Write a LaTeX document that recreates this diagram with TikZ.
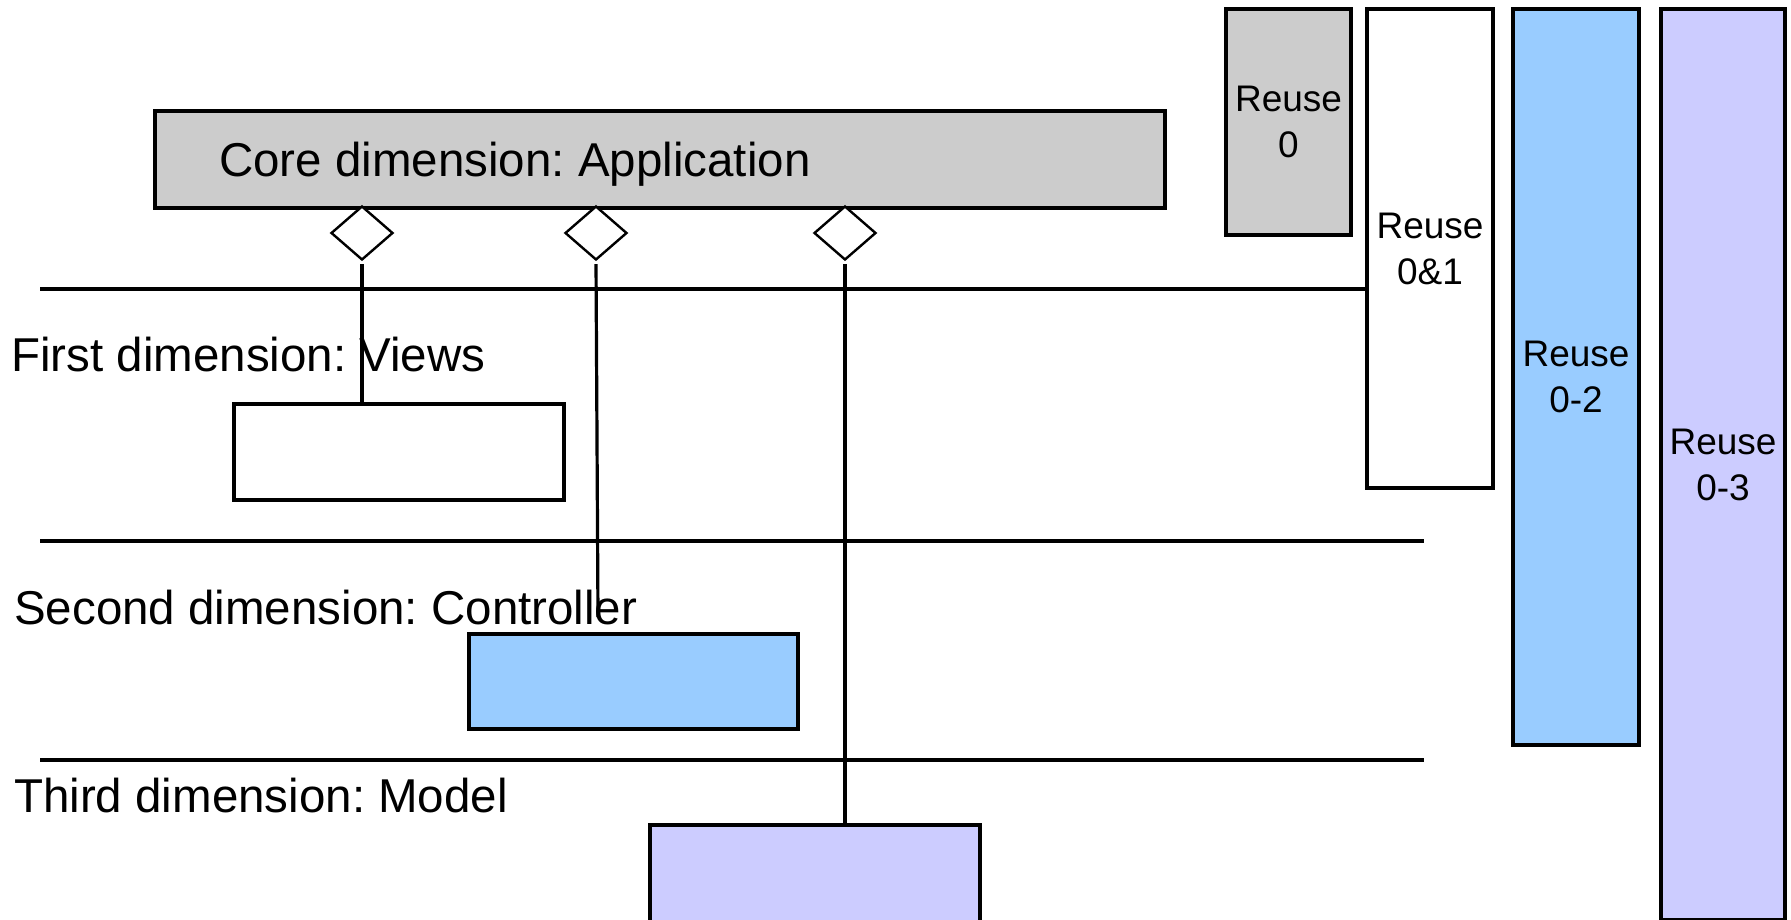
\documentclass[tikz,border=0pt]{standalone}
\usepackage{fontspec}
\setmainfont{Liberation Sans}
\usetikzlibrary{shapes.geometric}
\definecolor{coregray}{HTML}{CCCCCC}
\definecolor{ctrlblue}{HTML}{99CCFF}
\definecolor{modelpurple}{HTML}{CCCCFF}
\frenchspacing
\begin{document}
\begin{tikzpicture}[x=1pt,y=-1pt,
  box/.style={draw=black, line width=3.4pt, inner sep=0pt, rectangle},
  dia/.style={draw=black, diamond, fill=white, line width=2.4pt, minimum width=62pt, minimum height=54pt, inner sep=0pt},
  conn/.style={draw=black, line width=3.2pt, shorten <=3pt},
  sepline/.style={draw=black, line width=3.4pt},
  dimlabel/.style={anchor=base west, inner sep=0pt, font=\fontsize{47.5}{57}\selectfont},
  reuse/.style={box, align=center, font=\fontsize{37}{46}\selectfont}]
\useasboundingbox (0,0) rectangle (1791,920);
\clip (0,0) rectangle (1791,920);

% core box
\node[box, fill=coregray, minimum width=1010pt, minimum height=97pt] (core) at (660,159.5) {};
\node[anchor=base west, inner sep=0pt, font=\fontsize{47.5}{58}\selectfont] (coretext) at (219,177) {Core dimension: Application};

% reuse boxes
\node[reuse, fill=coregray, minimum width=125pt, minimum height=226pt] (r0) at (1288.5,122) {Reuse\\0};
\node[reuse, fill=white, minimum width=126pt, minimum height=479pt] (r01) at (1430,248.5) {Reuse\\0\&1};
\node[reuse, fill=ctrlblue, minimum width=126pt, minimum height=736pt] (r02) at (1576,377) {Reuse\\0-2};
\node[reuse, fill=modelpurple, minimum width=124pt, minimum height=911pt] (r03) at (1723,464.5) {Reuse\\0-3};

% separator lines
\coordinate (h1) at (40,289);
\draw[sepline] (h1) -- (h1 -| r01.west);
\coordinate (h2a) at (40,541);
\coordinate (h2b) at (1424,541);
\draw[sepline] (h2a) -- (h2b);
\coordinate (h3a) at (40,760);
\coordinate (h3b) at (1424,760);
\draw[sepline] (h3a) -- (h3b);

% dimension labels
\node[dimlabel] (lviews) at (11,371) {First dimension: Views};
\node[dimlabel] (lctrl) at (14,624) {Second dimension: Controller};
\node[dimlabel] (lmodel) at (14,812) {Third dimension: Model};

% component boxes
\node[box, fill=white, minimum width=330pt, minimum height=96pt] (views) at (399,452) {};
\node[box, fill=ctrlblue, minimum width=329pt, minimum height=95pt] (ctrl) at (633.5,681.5) {};
\node[box, fill=modelpurple, minimum width=330pt, minimum height=110pt] (model) at (815,880) {};

% diamonds
\node[dia] (d1) at (362,233) {};
\node[dia] (d2) at (596,233) {};
\node[dia] (d3) at (845,233) {};

% connectors
\draw[conn] (d1.south) -- (d1.south |- views.north);
\coordinate (c2end) at (598,617);
\draw[conn] (d2.south) -- (c2end);
\draw[conn] (d3.south) -- (d3.south |- model.north);
\end{tikzpicture}
\end{document}
